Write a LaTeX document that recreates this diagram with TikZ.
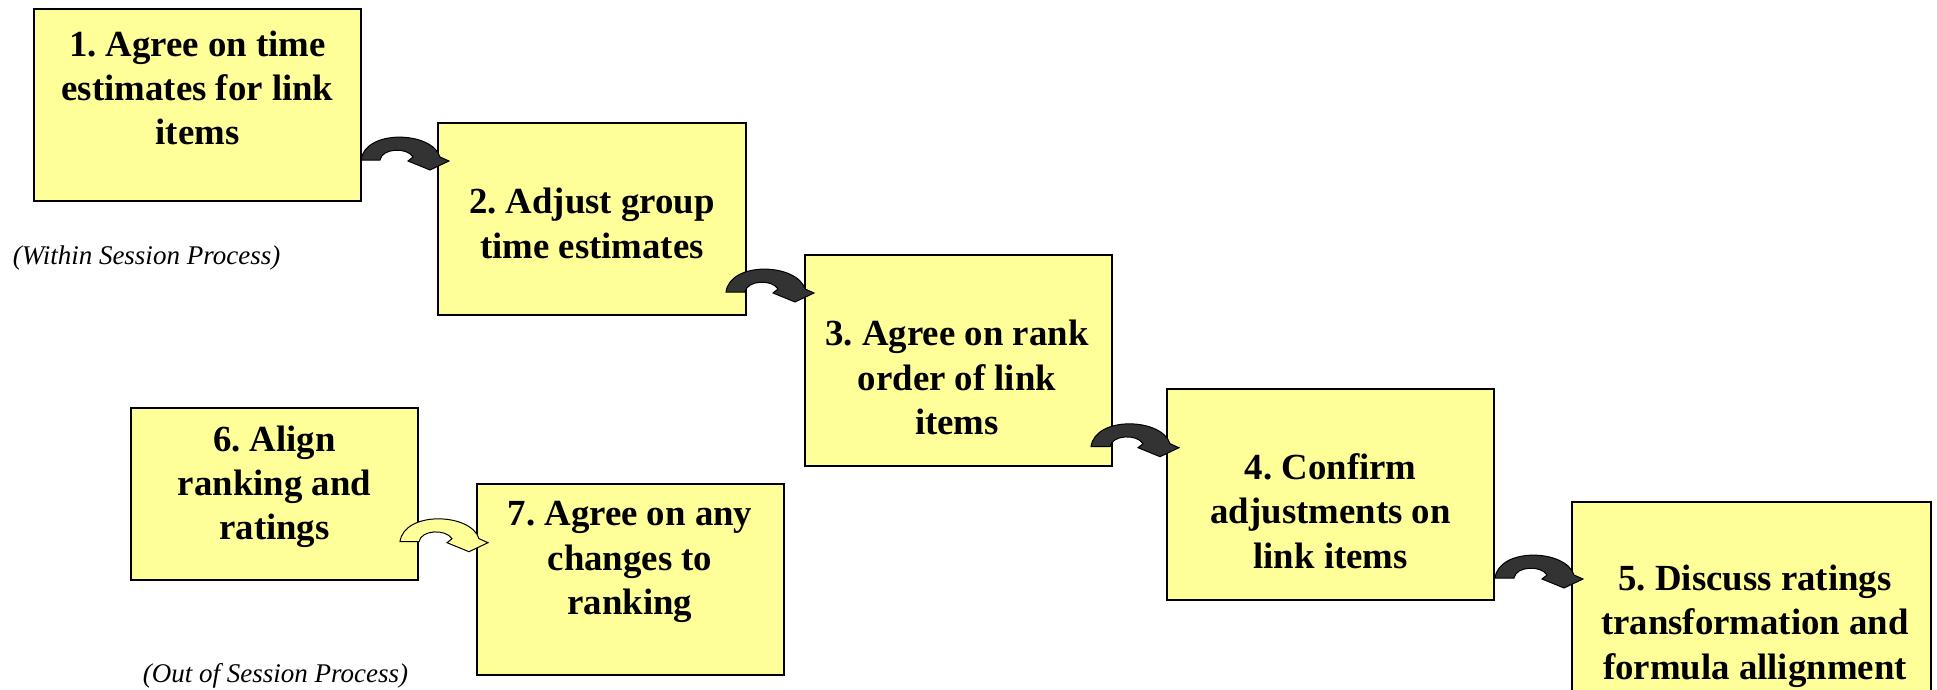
\documentclass[tikz,border=0pt]{standalone}
\usepackage{fontspec}
\setmainfont{Liberation Serif}
\frenchspacing
\definecolor{boxyellow}{HTML}{FFFF99}
\definecolor{arrowgray}{HTML}{333333}
\tikzset{
  stepbox/.style={draw=black, line width=1pt, fill=boxyellow, inner sep=0pt},
  steptext/.style={align=center, inner sep=0pt, font=\bfseries\fontsize{18.4}{22.2}\selectfont},
  phase/.style={inner sep=0pt, font=\itshape\fontsize{13.5}{16}\selectfont},
  turnarrow/.pic={
    \draw[pic actions] (0,0) -- (19,0) .. controls (21,-12) and (46,-13) .. (52,-3)
      -- (47,1) -- (69,10) -- (88,1) -- (79,-3) .. controls (71,-29) and (4,-31) .. (0,0) -- cycle;}
}
\begin{document}
\begin{tikzpicture}[x=0.5pt, y=-0.5pt]
  \useasboundingbox (0,0) rectangle (1937,690);
  \clip (0,0) rectangle (1937,690);
  \node[stepbox, minimum width=163.5pt, minimum height=96pt] (b1) at (197.5,105) {};
  \node[stepbox, minimum width=154pt, minimum height=96pt] (b2) at (591.5,219) {};
  \node[stepbox, minimum width=153.5pt, minimum height=105.5pt] (b3) at (958.5,360) {};
  \node[stepbox, minimum width=163.5pt, minimum height=105.5pt] (b4) at (1330.7,494) {};
  \node[stepbox, minimum width=179.5pt, minimum height=124pt] (b5) at (1751.5,626) {};
  \node[stepbox, minimum width=143.5pt, minimum height=86pt] (b6) at (274.5,493.5) {};
  \node[stepbox, minimum width=153.5pt, minimum height=95.5pt] (b7) at (630,579) {};
  \node[steptext] (t1) at (197.5,88) {1. Agree on time\\estimates for link\\items};
  \node[steptext] (t2) at (592,223.5) {2. Adjust group\\time estimates};
  \node[steptext] (t3) at (957,377.5) {3. Agree on rank\\order of link\\items};
  \node[steptext] (t4) at (1330.7,511) {4. Confirm\\adjustments on\\link items};
  \node[steptext] (t5) at (1755,626) {5. Discuss ratings\\transformation and\\formula allignment};
  \node[steptext] (t6) at (274.5,486.7) {6. Align\\ranking and\\ratings};
  \node[steptext] (t7) at (630,562) {7. Agree on any\\changes to\\ranking};
  \node[phase] (within) at (146.5,258) {(Within Session Process)};
  \node[phase] (outof) at (275.5,676) {(Out of Session Process)};
  % turn arrows between the steps
  \coordinate (a12) at (361,160);
  \coordinate (a23) at (726,292);
  \coordinate (a34) at (1091,446.7);
  \coordinate (a45) at (1495,578);
  \coordinate (a67) at (400,541.7);
  \foreach \a in {a12,a23,a34,a45}
    \pic[draw=black, fill=arrowgray, line width=0.5pt] at (\a) {turnarrow};
  \pic[draw=black, fill=boxyellow, line width=0.5pt] at (a67) {turnarrow};
\end{tikzpicture}
\end{document}
